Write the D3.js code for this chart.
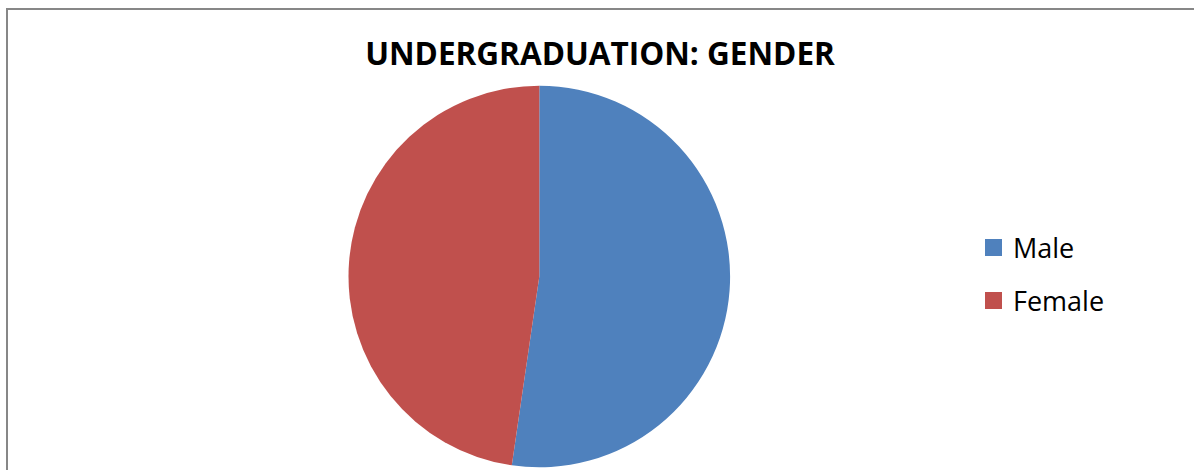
<!DOCTYPE html>
<html>
<head>
<meta charset="utf-8">
<script src="https://cdn.jsdelivr.net/npm/d3@7"></script>
<style>
html,body{margin:0;padding:0;background:#fff;}
svg{display:block;}
</style>
</head>
<body>
<svg id="chart" width="1194" height="470"></svg>
<script>
const title = "UNDERGRADUATION: GENDER";
const categories = ["Male", "Female"];
const values = [52.3, 47.7];
const colors = ["#4F81BD", "#C0504D"];

const svg = d3.select("#chart");
const W = 1194, H = 470;

svg.append("rect").attr("x", 0).attr("y", 0).attr("width", W).attr("height", H).attr("fill", "#fff");
svg.append("rect")
  .attr("x", 7).attr("y", 9)
  .attr("width", W + 20).attr("height", H + 20)
  .attr("fill", "none").attr("stroke", "#878787").attr("stroke-width", 2);

// title
const t = svg.append("text")
  .attr("x", 600).attr("y", 65)
  .attr("text-anchor", "middle")
  .attr("font-family", "'Open Sans', sans-serif")
  .attr("font-weight", "bold")
  .attr("font-size", 28)
  .attr("fill", "#000")
  .text(title);
const tw = t.node().getComputedTextLength();
t.attr("font-size", 28 * 470 / tw);

// pie
const cx = 539.3, cy = 276.5, r = 190.8;
const pie = d3.pie().sort(null).value(d => d)(values);
const arc = d3.arc().innerRadius(0).outerRadius(r);
const g = svg.append("g").attr("transform", `translate(${cx},${cy})`);
g.selectAll("path").data(pie).join("path")
  .attr("d", arc)
  .attr("fill", (d, i) => colors[i]);

// legend
const color = d3.scaleOrdinal().domain(categories).range(colors);
const ly = d3.scalePoint().domain(categories).range([248, 301]);
const lg = svg.append("g");
const items = lg.selectAll("g").data(categories).join("g")
  .attr("transform", d => `translate(985,${ly(d)})`);
items.append("rect")
  .attr("x", 0).attr("y", -9).attr("width", 17).attr("height", 17)
  .attr("fill", d => color(d));
items.append("text")
  .attr("x", 28).attr("y", 10)
  .attr("font-family", "'Open Sans', sans-serif")
  .attr("font-size", 27)
  .attr("fill", "#000")
  .text(d => d);
</script>
</body>
</html>
